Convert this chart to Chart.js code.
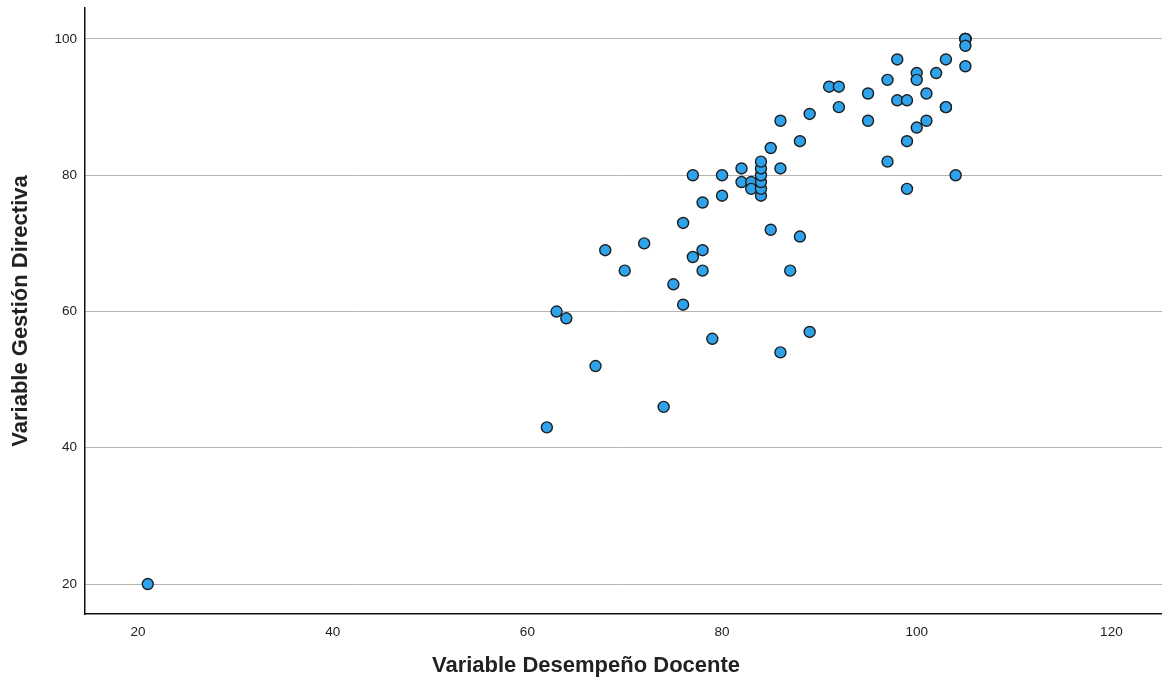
<!DOCTYPE html>
<html>
<head>
<meta charset="utf-8">
<script src="https://cdn.jsdelivr.net/npm/chart.js@4"></script>
<style>
  html, body { margin: 0; padding: 0; background: #fff; overflow: hidden; }
  #wrap { width: 1162px; height: 686px; }
</style>
</head>
<body>
<div id="wrap"><canvas id="scatter"></canvas></div>
<script>
// Desempeño Docente (x) vs Gestión Directiva (y)
const desempenoDocente = [
    21, 62, 63, 64, 67, 68, 70, 72, 74, 75, 76, 76, 77, 77, 78, 78, 78, 79,
    80, 80, 82, 82, 83, 83, 84, 84, 84, 84, 84, 84, 85, 85, 86, 86, 86, 87,
    88, 88, 89, 89, 91, 92, 92, 95, 95, 97, 97, 98, 98, 99, 99, 99, 100, 100,
    100, 101, 101, 102, 103, 103, 103, 104, 105, 105, 105, 105, 105, 105
];
const gestionDirectiva = [
    20, 43, 60, 59, 52, 69, 66, 70, 46, 64, 61, 73, 68, 80, 66, 69, 76, 56,
    80, 77, 81, 79, 79, 78, 77, 78, 79, 80, 81, 82, 84, 72, 88, 81, 54, 66,
    85, 71, 89, 57, 93, 93, 90, 92, 88, 94, 82, 97, 91, 91, 85, 78, 95, 94,
    87, 92, 88, 95, 97, 90, 90, 80, 100, 100, 100, 100, 99, 96
];
const xTicks = [20, 40, 60, 80, 100, 120];
const yTicks = [20, 40, 60, 80, 100];

const xTitle = 'Variable Desempeño Docente';
const yTitle = 'Variable Gestión Directiva';

const points = desempenoDocente.map((x, i) => ({ x: x, y: gestionDirectiva[i] }));

const tickFont = { family: 'Liberation Sans', size: 13.5 };

// axis titles, drawn by hand so they sit where SPSS puts them
const axisTitles = {
    id: 'axisTitles',
    afterDraw(chart) {
        const c = chart.ctx;
        const area = chart.chartArea;
        c.save();
        c.fillStyle = '#222';
        c.font = 'bold 22px "Liberation Sans"';
        c.textAlign = 'center';
        c.textBaseline = 'middle';
        c.fillText(xTitle, 586, 666);
        c.translate(21, (area.top + area.bottom) / 2);
        c.rotate(-Math.PI / 2);
        c.fillText(yTitle, 0, 0);
        c.restore();
    }
};

new Chart(document.getElementById('scatter').getContext('2d'), {
    type: 'scatter',
    data: {
        datasets: [{
            data: points,
            backgroundColor: '#2fa2ec',
            borderColor: '#1e1e1e',
            borderWidth: 1.4,
            pointRadius: 5.5,
            pointHoverRadius: 5.5
        }]
    },
    options: {
        responsive: true,
        maintainAspectRatio: false,
        animation: false,
        layout: { autoPadding: false, padding: { top: 8, right: 0, left: 0, bottom: 0 } },
        plugins: { legend: { display: false }, tooltip: { enabled: false } },
        scales: {
            x: {
                type: 'linear',
                min: 14.55,
                max: 125.2,
                afterBuildTicks: s => { s.ticks = xTicks.map(v => ({ value: v })); },
                afterFit: s => {
                    s.height = 72;
                    s.paddingLeft = 0;
                    s.paddingRight = 0;
                },
                grid: { display: false },
                border: { display: true, color: '#111', width: 1.5 },
                ticks: { font: tickFont, color: '#222', padding: 2, maxRotation: 0 }
            },
            y: {
                type: 'linear',
                min: 15.6,
                max: 104.55,
                afterBuildTicks: s => { s.ticks = yTicks.map(v => ({ value: v })); },
                afterFit: s => {
                    s.width = 85;
                    s.paddingTop = 0;
                    s.paddingBottom = 0;
                },
                grid: { color: '#b4b4b4', lineWidth: 1, drawTicks: false },
                border: { display: true, color: '#111', width: 1.5 },
                ticks: { font: tickFont, color: '#222', padding: 8 }
            }
        }
    },
    plugins: [axisTitles]
});
</script>
</body>
</html>
